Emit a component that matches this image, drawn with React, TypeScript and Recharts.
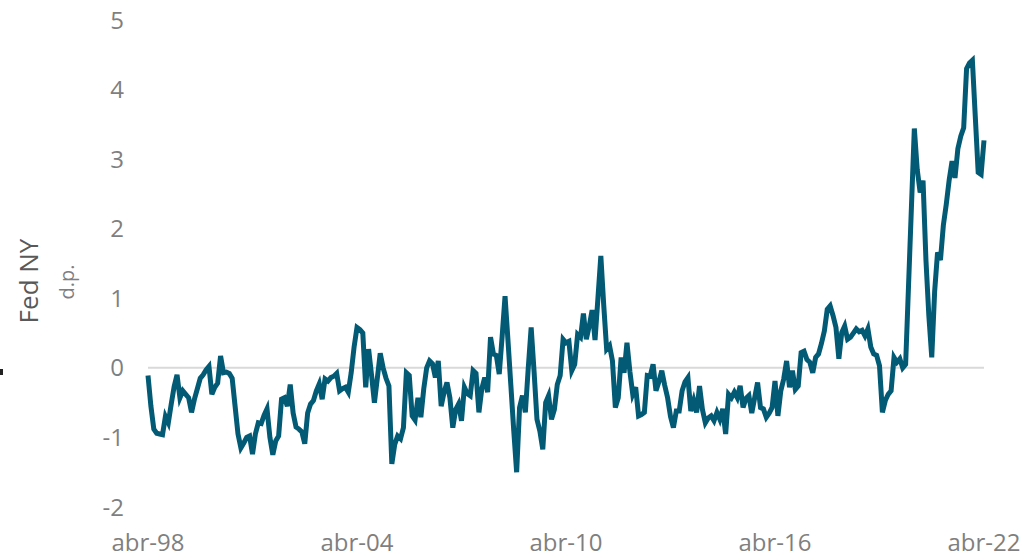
import { LineChart, Line, XAxis, YAxis, ReferenceLine } from 'recharts'

// Índice de presión de cadenas de suministro (Fed NY), mensual abr-98 .. abr-22
const monthNames = ['ene', 'feb', 'mar', 'abr', 'may', 'jun', 'jul', 'ago', 'sep', 'oct', 'nov', 'dic']
const startYear = 1998
const startMonth = 3 // abr

const gscpi = [
  -0.11, -0.55, -0.88, -0.94, -0.95, -0.96, -0.70, -0.79, -0.52, -0.27, -0.10, -0.43,
  -0.33, -0.38, -0.43, -0.64, -0.45, -0.30, -0.15, -0.10, -0.03, 0.02, -0.38, -0.28,
  -0.22, 0.17, -0.07, -0.06, -0.08, -0.15, -0.55, -0.95, -1.15, -1.08, -1.00, -0.98,
  -1.24, -0.95, -0.79, -0.80, -0.68, -0.59, -1.00, -1.25, -1.05, -0.98, -0.45, -0.43,
  -0.55, -0.24, -0.65, -0.85, -0.88, -0.92, -1.09, -0.65, -0.52, -0.47, -0.33, -0.23,
  -0.45, -0.16, -0.19, -0.14, -0.12, -0.08, -0.33, -0.30, -0.28, -0.35, -0.07, 0.30,
  0.58, 0.55, 0.50, -0.28, 0.27, -0.10, -0.50, -0.15, 0.21, 0.00, -0.15, -0.26,
  -1.38, -1.10, -0.98, -1.02, -0.86, -0.07, -0.11, -0.69, -0.75, -0.43, -0.71, -0.30,
  0.00, 0.10, 0.06, -0.14, 0.10, -0.55, -0.35, -0.21, -0.43, -0.86, -0.60, -0.52,
  -0.76, -0.28, -0.37, -0.40, -0.04, -0.08, -0.64, -0.30, -0.14, -0.35, 0.44, 0.20,
  0.18, -0.09, 0.45, 1.03, 0.40, -0.25, -0.90, -1.50, -0.57, -0.40, -0.64, 0.00,
  0.58, -0.05, -0.74, -0.91, -1.17, -0.50, -0.40, -0.74, -0.60, -0.24, -0.11, 0.41,
  0.36, 0.38, -0.04, 0.05, 0.48, 0.44, 0.78, 0.41, 0.60, 0.83, 0.40, 1.00,
  1.61, 0.90, 0.27, 0.32, 0.10, -0.57, -0.43, 0.15, -0.07, 0.36, -0.05, -0.38,
  -0.28, -0.69, -0.67, -0.64, -0.11, -0.12, 0.05, -0.33, -0.20, -0.04, -0.25, -0.43,
  -0.70, -0.86, -0.62, -0.62, -0.33, -0.20, -0.14, -0.62, -0.47, -0.64, -0.26, -0.60,
  -0.79, -0.72, -0.69, -0.76, -0.64, -0.74, -0.59, -0.95, -0.38, -0.43, -0.35, -0.43,
  -0.26, -0.57, -0.44, -0.40, -0.65, -0.43, -0.21, -0.57, -0.59, -0.71, -0.65, -0.57,
  -0.19, -0.69, -0.33, -0.16, 0.10, -0.28, -0.04, -0.31, -0.26, 0.22, 0.24, 0.12,
  0.08, -0.07, 0.15, 0.20, 0.35, 0.53, 0.84, 0.89, 0.75, 0.58, 0.13, 0.51,
  0.60, 0.41, 0.44, 0.50, 0.56, 0.52, 0.54, 0.46, 0.56, 0.30, 0.20, 0.18,
  0.03, -0.64, -0.47, -0.38, -0.33, 0.15, 0.08, 0.13, 0.00, 0.05, 1.18, 2.31,
  3.44, 2.85, 2.52, 2.69, 1.55, 0.75, 0.15, 1.10, 1.66, 1.55, 2.05, 2.35,
  2.70, 2.97, 2.73, 3.15, 3.33, 3.45, 4.30, 4.38, 4.42, 3.61, 2.81, 2.78,
  3.27,
]

const xTicks = ['abr-98', 'abr-04', 'abr-10', 'abr-16', 'abr-22']
const yTicks = [-2, -1, 0, 1, 2, 3, 4, 5]

const monthLabel = (i: number) => {
  const m = startMonth + i
  const yy = String((startYear + Math.floor(m / 12)) % 100).padStart(2, '0')
  return `${monthNames[m % 12]}-${yy}`
}

const data = gscpi.map((v, i) => ({ mes: monthLabel(i), valor: v }))

const FONT = '"Open Sans", sans-serif'

const axisTitle = () => (
  <g>
    <text transform="translate(38,281) rotate(-90)" textAnchor="middle" fill="#595959" fontSize={26} fontFamily={FONT}>
      Fed NY
    </text>
    <text transform="translate(74,282) rotate(-90)" textAnchor="middle" fill="#7f7f7f" fontSize={20} fontFamily={FONT}>
      d.p.
    </text>
  </g>
)

export default function App() {
  return (
    <div style={{ position: 'absolute', left: 0, top: 0, width: 1023, height: 557, background: '#fff' }}>
      <div style={{ position: 'absolute', left: 0, top: 369, width: 3, height: 6, background: '#222' }} />
      <LineChart width={1023} height={557} data={data} margin={{ top: 20, right: 39, bottom: 0, left: 0 }}>
        <XAxis
          dataKey="mes"
          ticks={xTicks}
          interval={0}
          axisLine={false}
          tickLine={false}
          height={50}
          tickMargin={21}
          tick={{ fill: '#7f7f7f', fontSize: 24, fontFamily: FONT }}
        />
        <YAxis
          type="number"
          domain={[-2, 5]}
          ticks={yTicks}
          interval={0}
          width={148}
          axisLine={false}
          tickLine={false}
          tickMargin={18}
          tick={{ fill: '#7f7f7f', fontSize: 24, fontFamily: FONT }}
          label={axisTitle}
        />
        <ReferenceLine y={0} stroke="#d9d9d9" strokeWidth={2} />
        <Line
          type="linear"
          dataKey="valor"
          stroke="#035a74"
          strokeWidth={5}
          dot={false}
          isAnimationActive={false}
        />
      </LineChart>
    </div>
  )
}
